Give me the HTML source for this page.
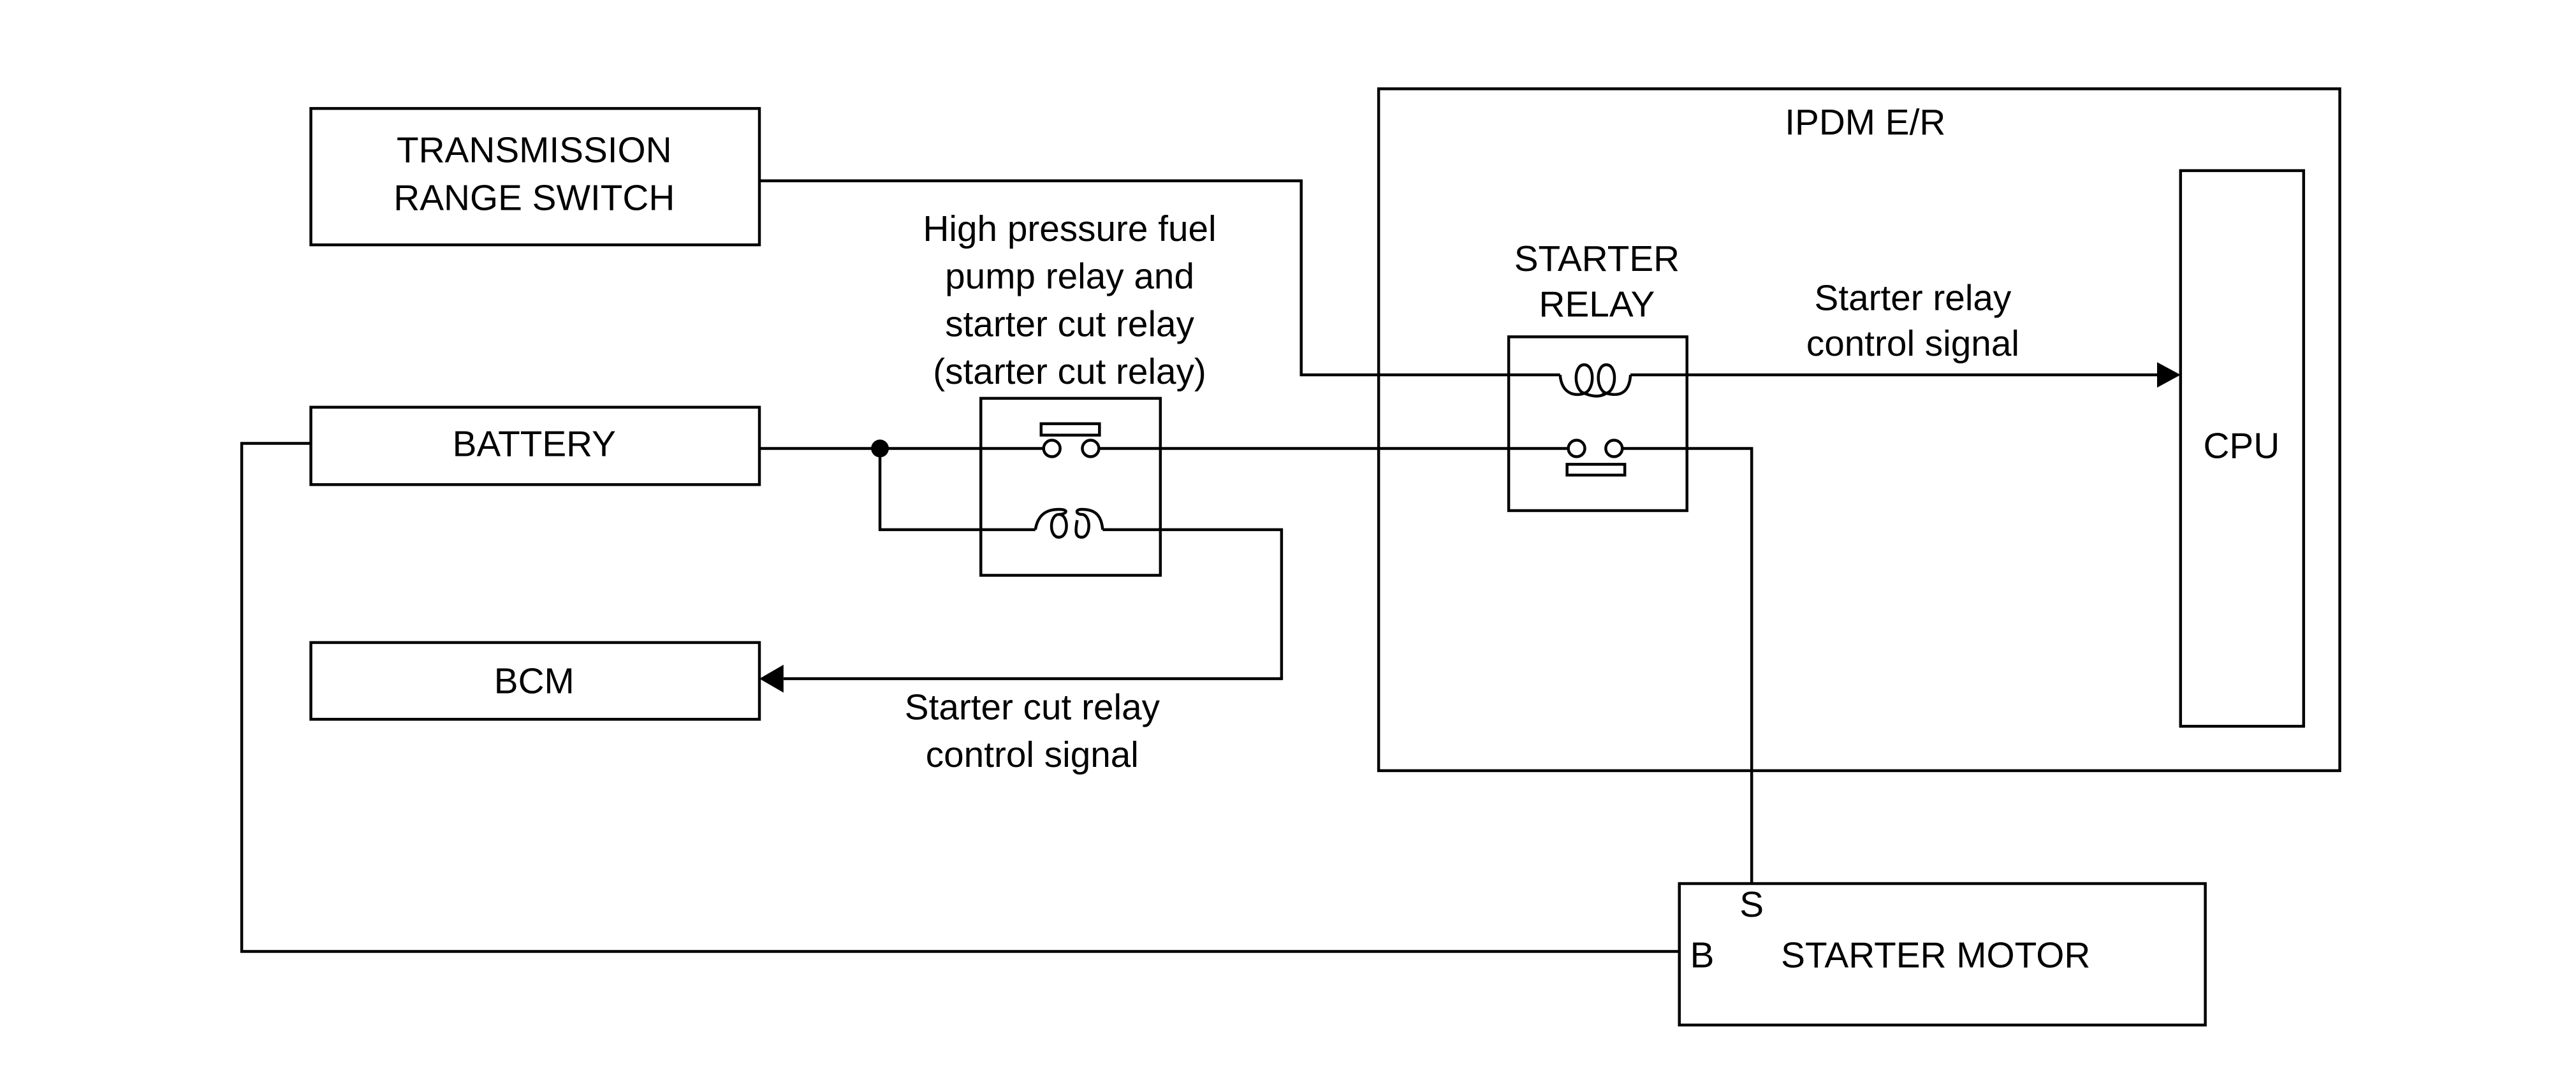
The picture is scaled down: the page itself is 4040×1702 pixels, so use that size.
<!DOCTYPE html>
<html><head><style>html,body{margin:0;padding:0;background:#fff}svg{display:block}</style></head><body>
<svg width="4040" height="1702" viewBox="0 0 4040 1702" xmlns="http://www.w3.org/2000/svg" font-family="Liberation Sans, sans-serif" font-size="57" fill="none" stroke="#000" stroke-width="4.5">
<g transform="scale(0.995)">
<rect x="490" y="171" width="707" height="215"/>
<rect x="490" y="642" width="707" height="122"/>
<rect x="490" y="1013" width="707" height="121"/>
<rect x="2173" y="140" width="1515" height="1075"/>
<rect x="3437" y="269" width="194" height="876"/>
<rect x="2378" y="531" width="281" height="274"/>
<rect x="1546" y="628" width="283" height="279"/>
<rect x="2647" y="1393" width="829" height="223"/>
<polyline points="1197,285 2051,285 2051,591 2459,591"/>
<g transform="translate(12,0)">
<path d="M2447,591 C2450,625 2475,624 2485,620 C2468,615 2468,575 2485,575 C2502,575 2502,615 2485,620 C2500,626 2510,626 2520,620 C2503,615 2503,575 2520,575 C2537,575 2537,615 2520,620 C2535,624 2556,625 2558,591"/>
<circle cx="2473" cy="707" r="13"/>
<circle cx="2532" cy="707" r="13"/>
<rect x="2458" y="732" width="91" height="17"/>
</g>
<polyline points="2570,591 3400,591"/>
<polygon points="3437,591 3400,571 3400,611" fill="#000" stroke="none"/>
<line x1="1197" y1="707" x2="1645" y2="707"/>
<circle cx="1387" cy="707" r="14" fill="#000" stroke="none"/>
<g transform="translate(6,0)">
<circle cx="1652" cy="707" r="13"/>
<circle cx="1713" cy="707" r="13"/>
<rect x="1635" y="668" width="92" height="18"/>
<path d="M1626,835 C1630,810 1645,803 1663,803 C1680,803 1675,811 1663,811 C1648,811 1647,847 1663,847 C1679,847 1679,811 1663,811 M1692,820 C1688,840 1690,847 1699,847 C1714,847 1714,811 1699,811 C1690,811 1688,803 1699,803 C1720,803 1730,812 1732,835"/>
</g>
<line x1="1732" y1="707" x2="2472" y2="707"/>
<polyline points="2557,707 2761,707 2761,1393"/>
<polyline points="1387,707 1387,835 1632,835"/>
<polyline points="1738,835 2020,835 2020,1070 1235,1070"/>
<polygon points="1197,1070 1235,1048 1235,1092" fill="#000" stroke="none"/>
<polyline points="490,699 381,699 381,1500 2647,1500"/>
<g fill="#000" stroke="none" text-anchor="middle">
<text x="842" y="256">TRANSMISSION</text>
<text x="842" y="331">RANGE SWITCH</text>
<text x="842" y="719">BATTERY</text>
<text x="842" y="1093">BCM</text>
<text x="2940" y="212">IPDM E/R</text>
<text x="3533" y="722">CPU</text>
<text x="2517" y="427">STARTER</text>
<text x="2517" y="499">RELAY</text>
<text x="1686" y="380">High pressure fuel</text>
<text x="1686" y="455">pump relay and</text>
<text x="1686" y="530">starter cut relay</text>
<text x="1686" y="605">(starter cut relay)</text>
<text x="3015" y="489">Starter relay</text>
<text x="3015" y="561">control signal</text>
<text x="1627" y="1134">Starter cut relay</text>
<text x="1627" y="1209">control signal</text>
<text x="2761" y="1445">S</text>
<text x="2683" y="1525">B</text>
<text x="3051" y="1525">STARTER MOTOR</text>
</g>
</g>
</svg>
</body></html>
